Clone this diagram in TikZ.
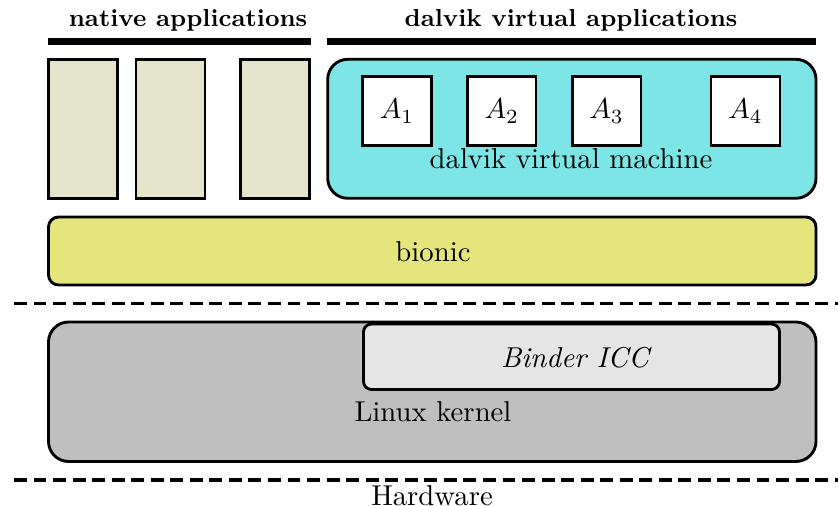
\documentclass[tikz,border=0pt]{standalone}
\usetikzlibrary{fit}
\definecolor{nativefill}{RGB}{228,228,202}
\definecolor{dvmfill}{RGB}{125,229,229}
\definecolor{bionicfill}{RGB}{229,229,125}
\definecolor{kernelfill}{RGB}{191,191,191}
\definecolor{binderfill}{RGB}{229,229,229}
\tikzset{
  box/.style={draw=black, line width=1pt, inner sep=0pt},
  hdr/.style={anchor=base, font=\fontsize{8.55}{10}\selectfont\bfseries},
  txt/.style={anchor=base, inner sep=0pt},
  bar/.style={line width=2.5pt},
  sep/.style={line width=1.2pt, dash pattern=on 4.5pt off 2.3pt},
}
\begin{document}
\begin{tikzpicture}[x=0.348pt, y=-0.348pt]
\useasboundingbox (0,0) rectangle (838,506);
% headers
\node[hdr] (hnat) at (188,27) {native applications};
\node[hdr] (hdal) at (571,27) {dalvik virtual applications};
\coordinate (bn1) at (48,41.3); \coordinate (bn2) at (310.7,41.3);
\coordinate (bd1) at (326.7,41.3); \coordinate (bd2) at (816,41.3);
\draw[bar] (bn1) -- (bn2);
\draw[bar] (bd1) -- (bd2);
% native apps
\node[box, fill=nativefill, fit={(48.3,59.3) (117.7,198.3)}] (n1) {};
\node[box, fill=nativefill, fit={(136,59.3) (205,198.3)}] (n2) {};
\node[box, fill=nativefill, fit={(240.7,59.3) (309.3,198.3)}] (n3) {};
% dalvik vm
\node[box, fill=dvmfill, rounded corners=7pt, fit={(327.7,59.3) (816,198.3)}] (dvm) {};
\node[box, fill=white, fit={(362.7,76.7) (431.3,145.7)}] (a1) {};
\node[box, fill=white, fit={(467.7,76.7) (536,145.7)}] (a2) {};
\node[box, fill=white, fit={(572.3,76.7) (641,145.7)}] (a3) {};
\node[box, fill=white, fit={(711,76.7) (780,145.7)}] (a4) {};
\node (a1t) at (a1.center) {$A_1$};
\node (a2t) at (a2.center) {$A_2$};
\node (a3t) at (a3.center) {$A_3$};
\node (a4t) at (a4.center) {$A_4$};
\node[txt] (dvmt) at (571,169) {dalvik virtual machine};
% bionic
\node[box, fill=bionicfill, rounded corners=3.5pt, fit={(48.5,217) (816,285)}] (bionic) {};
\node[txt] (biont) at (433,261.5) {bionic};
% separator 1
\coordinate (s1a) at (14,303.7); \coordinate (s1b) at (838,303.7);
\draw[sep] (s1a) -- (s1b);
% kernel
\node[box, fill=kernelfill, rounded corners=7pt, fit={(48.5,322) (816,461.5)}] (kernel) {};
\node[box, fill=binderfill, rounded corners=2.8pt, fit={(363.5,324) (779.5,389.5)}] (binder) {};
\node[txt] (bindert) at (575,367.5) {\itshape Binder ICC};
\node[txt] (kernelt) at (433,421.5) {Linux kernel};
% separator 2
\coordinate (s2a) at (14,480); \coordinate (s2b) at (838,480);
\draw[sep] (s2a) -- (s2b);
\node[txt] (hw) at (432,505.5) {Hardware};
\end{tikzpicture}
\end{document}
